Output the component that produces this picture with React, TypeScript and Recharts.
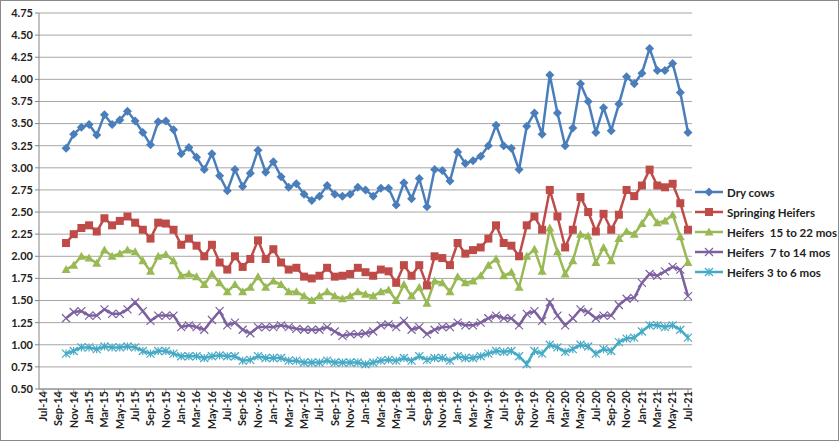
import React from 'react';
import { LineChart, Line, XAxis, YAxis, CartesianGrid } from 'recharts';

const MONTHS = ['Jan', 'Feb', 'Mar', 'Apr', 'May', 'Jun', 'Jul', 'Aug', 'Sep', 'Oct', 'Nov', 'Dec'];
// Jul-14 .. Jul-21
const categories: string[] = [];
for (let y = 14; y <= 21; y++) {
  for (let m = 0; m < 12; m++) {
    if ((y === 14 && m < 6) || (y === 21 && m > 6)) continue;
    categories.push(`${MONTHS[m]}-${y}`);
  }
}
// series start at Oct-14
const LEAD = 3;

const dryCows = [3.22, 3.38, 3.46, 3.49, 3.37, 3.60, 3.49, 3.54, 3.64, 3.53, 3.40, 3.26, 3.52, 3.53, 3.43, 3.16, 3.23, 3.12, 2.98, 3.16, 2.91, 2.74, 2.98, 2.79, 2.94, 3.20, 2.95, 3.07, 2.90, 2.78, 2.82, 2.70, 2.63, 2.68, 2.80, 2.70, 2.68, 2.70, 2.78, 2.75, 2.68, 2.77, 2.77, 2.58, 2.83, 2.65, 2.88, 2.56, 2.98, 2.97, 2.85, 3.18, 3.05, 3.08, 3.13, 3.25, 3.48, 3.25, 3.22, 2.98, 3.47, 3.62, 3.38, 4.05, 3.62, 3.25, 3.45, 3.95, 3.75, 3.40, 3.68, 3.42, 3.72, 4.03, 3.95, 4.07, 4.35, 4.10, 4.10, 4.18, 3.85, 3.40];
const springing = [2.15, 2.25, 2.32, 2.35, 2.28, 2.43, 2.35, 2.40, 2.45, 2.38, 2.30, 2.20, 2.38, 2.37, 2.30, 2.13, 2.20, 2.12, 2.00, 2.13, 1.93, 1.85, 2.00, 1.88, 1.97, 2.18, 1.97, 2.08, 1.93, 1.85, 1.87, 1.77, 1.75, 1.78, 1.87, 1.77, 1.78, 1.80, 1.87, 1.82, 1.78, 1.85, 1.83, 1.70, 1.90, 1.78, 1.90, 1.67, 2.00, 1.98, 1.90, 2.15, 2.03, 2.07, 2.10, 2.20, 2.35, 2.15, 2.12, 2.00, 2.35, 2.45, 2.30, 2.75, 2.45, 2.10, 2.30, 2.67, 2.50, 2.28, 2.48, 2.30, 2.47, 2.75, 2.68, 2.80, 2.98, 2.80, 2.78, 2.82, 2.60, 2.30];
const heifers15to22 = [1.85, 1.90, 2.00, 1.98, 1.92, 2.07, 2.00, 2.03, 2.07, 2.05, 1.95, 1.83, 2.00, 2.02, 1.95, 1.78, 1.80, 1.77, 1.68, 1.80, 1.70, 1.60, 1.68, 1.60, 1.65, 1.77, 1.65, 1.72, 1.68, 1.60, 1.60, 1.55, 1.50, 1.55, 1.60, 1.55, 1.52, 1.55, 1.60, 1.57, 1.55, 1.60, 1.62, 1.50, 1.68, 1.55, 1.65, 1.47, 1.72, 1.70, 1.60, 1.77, 1.70, 1.72, 1.78, 1.90, 1.97, 1.78, 1.82, 1.65, 2.00, 2.08, 1.83, 2.32, 2.05, 1.80, 1.95, 2.25, 2.23, 1.93, 2.10, 1.95, 2.20, 2.28, 2.25, 2.37, 2.50, 2.38, 2.40, 2.47, 2.22, 1.93];
const heifers7to14 = [1.30, 1.37, 1.38, 1.33, 1.33, 1.40, 1.35, 1.35, 1.40, 1.48, 1.38, 1.27, 1.33, 1.33, 1.33, 1.20, 1.22, 1.20, 1.17, 1.28, 1.38, 1.22, 1.25, 1.17, 1.13, 1.20, 1.20, 1.20, 1.22, 1.20, 1.18, 1.17, 1.17, 1.17, 1.20, 1.15, 1.10, 1.12, 1.12, 1.13, 1.15, 1.22, 1.23, 1.20, 1.27, 1.17, 1.20, 1.12, 1.17, 1.20, 1.20, 1.25, 1.22, 1.22, 1.25, 1.30, 1.33, 1.30, 1.30, 1.22, 1.35, 1.38, 1.27, 1.48, 1.33, 1.22, 1.30, 1.40, 1.37, 1.30, 1.33, 1.33, 1.45, 1.52, 1.53, 1.70, 1.80, 1.78, 1.83, 1.88, 1.85, 1.55];
const heifers3to6 = [0.90, 0.93, 0.97, 0.97, 0.95, 0.98, 0.97, 0.97, 0.98, 0.97, 0.93, 0.90, 0.93, 0.93, 0.90, 0.87, 0.87, 0.87, 0.85, 0.87, 0.88, 0.87, 0.87, 0.82, 0.83, 0.87, 0.85, 0.85, 0.85, 0.82, 0.82, 0.80, 0.80, 0.80, 0.82, 0.80, 0.80, 0.80, 0.80, 0.78, 0.80, 0.82, 0.83, 0.82, 0.85, 0.82, 0.87, 0.83, 0.85, 0.85, 0.82, 0.87, 0.85, 0.85, 0.87, 0.90, 0.93, 0.92, 0.93, 0.87, 0.78, 0.93, 0.90, 1.00, 0.97, 0.92, 0.95, 1.00, 0.98, 0.90, 0.95, 0.93, 1.03, 1.07, 1.08, 1.15, 1.22, 1.22, 1.20, 1.22, 1.17, 1.08];

const yTicks = [0.5, 0.75, 1, 1.25, 1.5, 1.75, 2, 2.25, 2.5, 2.75, 3, 3.25, 3.5, 3.75, 4, 4.25, 4.5, 4.75];

const SERIES = [
  { key: 'dry', name: 'Dry cows', values: dryCows, color: '#4a7ebb', marker: 'diamond' },
  { key: 'spring', name: 'Springing Heifers', values: springing, color: '#be4b48', marker: 'square' },
  { key: 'h1522', name: 'Heifers  15 to 22 mos', values: heifers15to22, color: '#98b954', marker: 'triangle' },
  { key: 'h714', name: 'Heifers  7 to 14 mos', values: heifers7to14, color: '#7d60a0', marker: 'x' },
  { key: 'h36', name: 'Heifers 3 to 6 mos', values: heifers3to6, color: '#46aac5', marker: 'star' },
];

const data = categories.map((c, i) => {
  const row: Record<string, string | number | null> = { month: c };
  SERIES.forEach((s) => {
    const v = s.values[i - LEAD];
    row[s.key] = v === undefined ? null : v;
  });
  return row;
});

function Marker({ cx, cy, type, color }: { cx: number; cy: number; type: string; color: string }) {
  if (cx == null || cy == null) return null;
  switch (type) {
    case 'diamond':
      return <path d={`M${cx},${cy - 4.5}L${cx + 4.5},${cy}L${cx},${cy + 4.5}L${cx - 4.5},${cy}Z`} fill={color} />;
    case 'square':
      return <rect x={cx - 4} y={cy - 4} width={8} height={8} fill={color} />;
    case 'triangle':
      return <path d={`M${cx},${cy - 4.5}L${cx + 4.5},${cy + 3.5}L${cx - 4.5},${cy + 3.5}Z`} fill={color} />;
    case 'x':
      return <path d={`M${cx - 4},${cy - 4}L${cx + 4},${cy + 4}M${cx + 4},${cy - 4}L${cx - 4},${cy + 4}`} stroke={color} strokeWidth={1.2} />;
    default:
      return (
        <path
          d={`M${cx - 4},${cy - 4}L${cx + 4},${cy + 4}M${cx + 4},${cy - 4}L${cx - 4},${cy + 4}M${cx},${cy - 4}L${cx},${cy + 4}`}
          stroke={color}
          strokeWidth={1.2}
        />
      );
  }
}

function LegendBox() {
  return (
    <div style={{ position: 'absolute', left: 694, top: 181, fontFamily: 'Lato, sans-serif', fontWeight: 700, fontSize: 11.5, color: '#222' }}>
      {SERIES.map((s) => (
        <div key={s.key} style={{ display: 'flex', alignItems: 'center', height: 20, whiteSpace: 'pre' }}>
          <svg width={28} height={12} style={{ marginRight: 4 }}>
            <line x1={0} y1={6} x2={28} y2={6} stroke={s.color} strokeWidth={2.5} />
            <Marker cx={14} cy={6} type={s.marker} color={s.color} />
          </svg>
          {s.name}
        </div>
      ))}
    </div>
  );
}

export default function App() {
  const tickStyle = { fontSize: 11, fontWeight: 700, fill: '#222', fontFamily: 'Lato, sans-serif' };
  return (
    <div style={{ position: 'absolute', left: 0, top: 0, width: 837, height: 439, border: '1px solid #8a8a8a', background: '#fff' }}>
      <LineChart width={837} height={439} data={data} margin={{ top: 12, right: 146, left: 0, bottom: 0 }}>
        <CartesianGrid vertical={false} stroke="#a6a6a6" />
        <XAxis
          dataKey="month"
          interval={1}
          padding={{ left: 4, right: 4 }}
          height={51}
          angle={-90}
          textAnchor="end"
          dx={-4}
          dy={-4}
          tick={tickStyle}
          stroke="#868686"
          tickSize={4}
        />
        <YAxis
          domain={[0.5, 4.75]}
          ticks={yTicks}
          width={38}
          tickFormatter={(v) => v.toFixed(2)}
          tick={tickStyle}
          stroke="#868686"
          tickSize={4}
          interval={0}
        />
        {SERIES.map((s) => (
          <Line
            key={s.key}
            dataKey={s.key}
            name={s.name}
            stroke={s.color}
            strokeWidth={2.5}
            isAnimationActive={false}
            dot={(p: any) => <Marker key={`${s.key}-${p.index}`} cx={p.cx} cy={p.cy} type={s.marker} color={s.color} />}
            activeDot={false}
          />
        ))}
      </LineChart>
      <LegendBox />
    </div>
  );
}
